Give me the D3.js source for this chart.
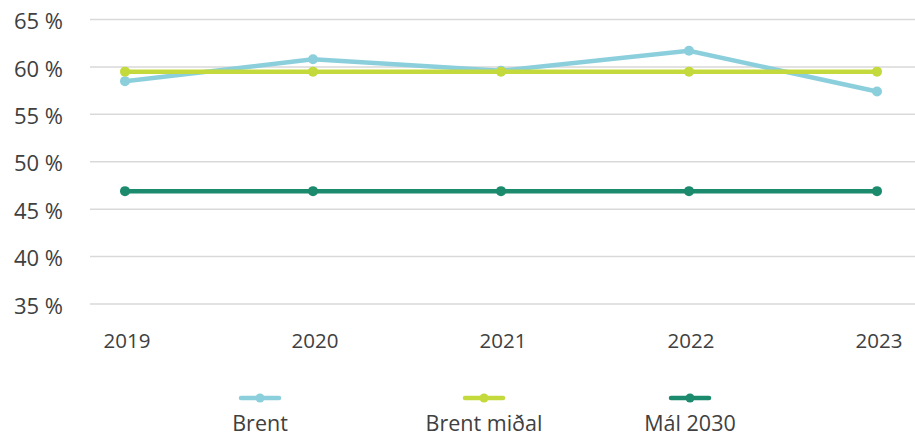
<!DOCTYPE html>
<html>
<head>
<meta charset="utf-8">
<script src="https://cdn.jsdelivr.net/npm/d3@7"></script>
<style>
  body { margin: 0; background: #fff; }
  text { font-family: "Open Sans", "Noto Sans", sans-serif; fill: #404040; }
</style>
</head>
<body>
<div id="chart"></div>
<script>
"use strict";

// data
var years = ["2019", "2020", "2021", "2022", "2023"];
var brent = [58.5, 60.8, 59.6, 61.7, 57.4];
var brentMidal = [59.5, 59.5, 59.5, 59.5, 59.5];
var mal2030 = [46.9, 46.9, 46.9, 46.9, 46.9];
var seriesNames = ["Brent", "Brent miðal", "Mál 2030"];
var seriesColors = ["#8ccfdc", "#c4d93b", "#1b8a6d"];
var yTicks = [35, 40, 45, 50, 55, 60, 65];

var width = 915, height = 437;

var svg = d3.select("#chart").append("svg")
  .attr("width", width)
  .attr("height", height);

var x = d3.scalePoint()
  .domain(years)
  .range([125, 877]);

var y = d3.scaleLinear()
  .domain([35, 65])
  .range([304, 19.5]);

// gridlines
svg.append("g")
  .selectAll("line")
  .data(yTicks)
  .enter().append("line")
  .attr("x1", 90)
  .attr("x2", 915)
  .attr("y1", function(d) { return y(d); })
  .attr("y2", function(d) { return y(d); })
  .attr("stroke", "#d9d9d9")
  .attr("stroke-width", 1.5);

// y labels
svg.append("g")
  .selectAll("text")
  .data(yTicks)
  .enter().append("text")
  .attr("x", 63)
  .attr("y", function(d) { return y(d) + 2; })
  .attr("dy", "0.35em")
  .attr("text-anchor", "end")
  .style("font-size", "22px")
  .text(function(d) { return d + " %"; });

// x labels
svg.append("g")
  .selectAll("text")
  .data(years)
  .enter().append("text")
  .attr("x", function(d) { return x(d) + 2; })
  .attr("y", 348)
  .attr("text-anchor", "middle")
  .style("font-size", "20.5px")
  .text(function(d) { return d; });

var allSeries = [brent, brentMidal, mal2030];
var line = d3.line()
  .x(function(d, i) { return x(years[i]); })
  .y(function(d) { return y(d); });

// draw in order: Mál 2030, Brent, Brent miðal (miðal on top)
[2, 0, 1].forEach(function(k) {
  var g = svg.append("g");
  g.append("path")
    .datum(allSeries[k])
    .attr("d", line)
    .attr("fill", "none")
    .attr("stroke", seriesColors[k])
    .attr("stroke-width", 4.5);
  g.selectAll("circle")
    .data(allSeries[k])
    .enter().append("circle")
    .attr("cx", function(d, i) { return x(years[i]); })
    .attr("cy", function(d) { return y(d); })
    .attr("r", 5)
    .attr("fill", seriesColors[k]);
});

// legend
var legendX = [260, 484, 690];
var legend = svg.append("g")
  .selectAll("g")
  .data(seriesNames)
  .enter().append("g")
  .attr("transform", function(d, i) { return "translate(" + legendX[i] + ",0)"; });

legend.append("line")
  .attr("x1", -19).attr("x2", 19)
  .attr("y1", 398).attr("y2", 398)
  .attr("stroke", function(d, i) { return seriesColors[i]; })
  .attr("stroke-width", 4.5)
  .attr("stroke-linecap", "round");
legend.append("circle")
  .attr("cx", 0).attr("cy", 398).attr("r", 4.5)
  .attr("fill", function(d, i) { return seriesColors[i]; });
legend.append("text")
  .attr("x", 0).attr("y", 431)
  .attr("text-anchor", "middle")
  .style("font-size", "21.5px")
  .text(function(d) { return d; });
</script>
</body>
</html>
